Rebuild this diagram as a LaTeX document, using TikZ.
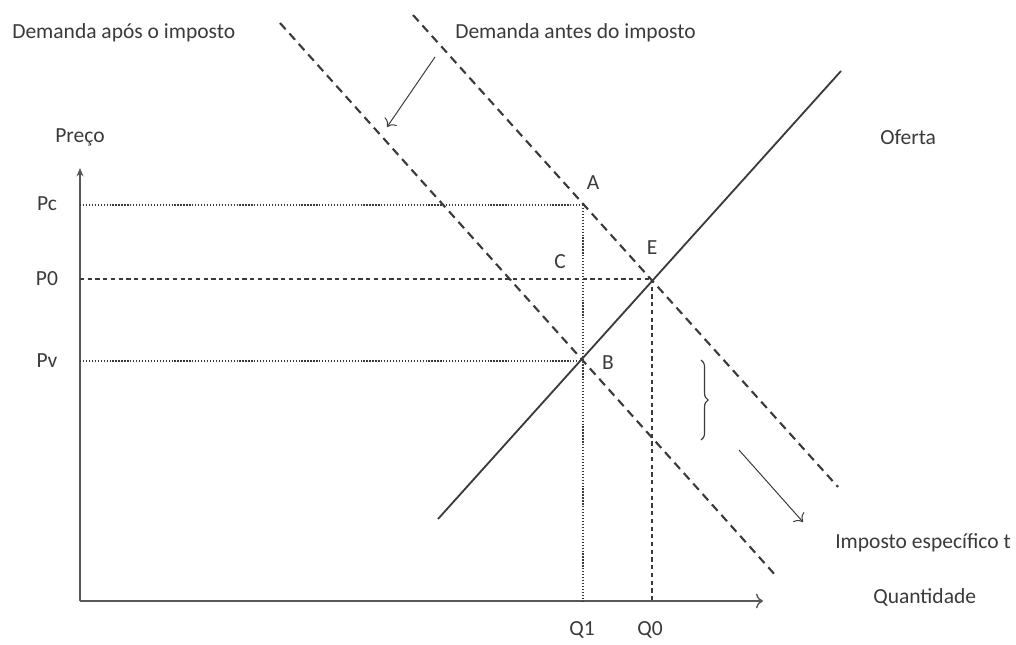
\documentclass[tikz,border=0pt]{standalone}
\usepackage{fontspec}
\setmainfont{Carlito}
\usetikzlibrary{arrows.meta, decorations.pathreplacing}
\definecolor{ink}{HTML}{3A3A3A}
\tikzset{
  demand/.style={draw=ink, line width=1.5pt, dash pattern=on 6pt off 4pt},
  supply/.style={draw=ink, line width=1.3pt},
  axisline/.style={draw=ink!85, line width=1pt},
  dotguide/.style={draw=ink, line width=0.8pt, dash pattern=on 0.9pt off 1.2pt},
  dashguide/.style={draw=ink, line width=0.8pt, dash pattern=on 3pt off 2.5pt},
  shiftarrow/.style={draw=ink, line width=0.7pt, -{To[length=5pt]}},
  lbl/.style={font=\fontsize{15.3}{18}\selectfont, text=ink, inner sep=0pt}
}

\begin{document}
\begin{tikzpicture}[x=0.025cm, y=-0.025cm]
\useasboundingbox (0,0) rectangle (1016,644);

%% ── Axes ───────────────────────────────────────────────
\coordinate (O)    at (80,601);
\coordinate (ytip) at (80,168);
\coordinate (xtip) at (763,601);
\draw[axisline, -{Stealth[length=6pt, width=5pt]}] (O) -- (ytip);
\draw[axisline, -{To[length=5pt]}] (O) -- (xtip);

%% ── Curves ─────────────────────────────────────────────
\coordinate (dbTop) at (413,15);   % demanda antes
\coordinate (dbEnd) at (838,487);
\coordinate (daTop) at (280,23);   % demanda apos
\coordinate (daEnd) at (777,577);
\coordinate (sLow)  at (438,519);  % oferta
\coordinate (sHigh) at (841,71);
\draw[demand] (dbTop) -- (dbEnd);
\draw[demand] (daTop) -- (daEnd);
\draw[supply] (sLow) -- (sHigh);

%% ── Equilibrium points ─────────────────────────────────
\coordinate (ptA) at (583,205);
\coordinate (ptE) at (652,279);
\coordinate (ptB) at (582,361);
\coordinate (pc)  at (O |- ptA);
\coordinate (p0)  at (O |- ptE);
\coordinate (pv)  at (O |- ptB);
\coordinate (q1)  at (ptA |- O);
\coordinate (q0)  at (ptE |- O);

\draw[dotguide]  (pc) -- (ptA);
\draw[dotguide]  (ptA) -- (q1);
\draw[dotguide]  (pv) -- (ptB);
\draw[dashguide] (p0) -- (ptE);
\draw[dashguide] (ptE) -- (q0);

%% ── Shift arrows and brace ─────────────────────────────
\coordinate (upFrom) at (435,57);
\coordinate (upTo)   at (387,127);
\coordinate (lowFrom) at (739,450);
\coordinate (lowTo)   at (803,522);
\draw[shiftarrow] (upFrom) -- (upTo);
\draw[shiftarrow] (lowFrom) -- (lowTo);
\coordinate (brTop) at (701,360);
\coordinate (brBot) at (701,440);
\draw[ink, line width=0.8pt, decorate, decoration={brace, amplitude=5pt}] (brTop) -- (brBot);

%% ── Labels ─────────────────────────────────────────────
\node[lbl, anchor=west] (dapos)  at (12,33)   {Demanda após o imposto};
\node[lbl, anchor=west] (dantes) at (455,33)  {Demanda antes do imposto};
\node[lbl] (preco)  at (80,137)  {Preço};
\node[lbl, anchor=west] (oferta) at (880,137) {Oferta};
\node[lbl] (lPc) at (47,204) {Pc};
\node[lbl] (lP0) at (47,279) {P0};
\node[lbl] (lPv) at (47,361) {Pv};
\node[lbl] (lA) at (593,183) {A};
\node[lbl] (lC) at (560,262) {C};
\node[lbl] (lE) at (652,248) {E};
\node[lbl] (lB) at (608,363) {B};
\node[lbl, anchor=west] (imposto) at (835,543) {Imposto específico t};
\node[lbl, anchor=west] (quant)   at (873,597) {Quantidade};
\node[lbl] (lQ1) at (582,630) {Q1};
\node[lbl] (lQ0) at (650,630) {Q0};

\end{tikzpicture}
\end{document}
